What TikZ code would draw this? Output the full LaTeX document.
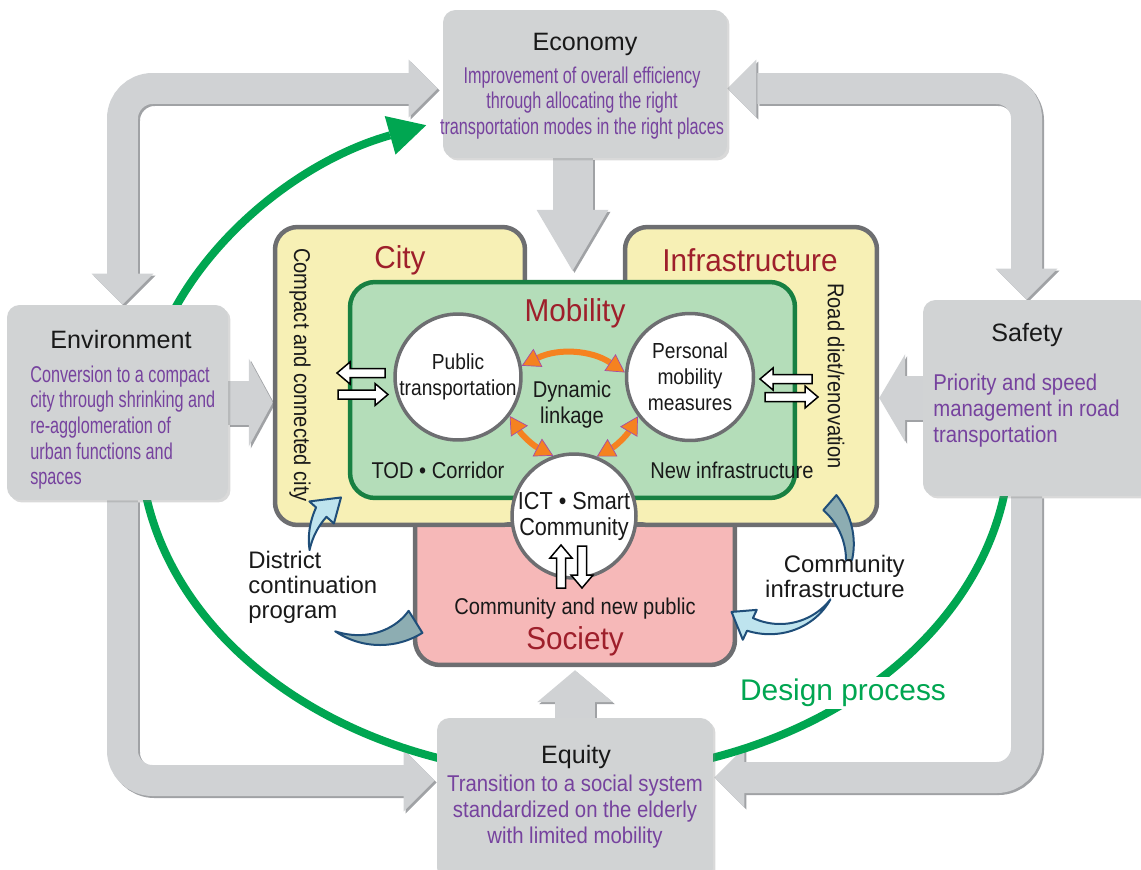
\documentclass[tikz,border=0pt]{standalone}
\usepackage{fontspec}
\setmainfont{Liberation Sans}
\newfontfamily\fcnd{Liberation Sans}[FakeStretch=0.71]
\newfontfamily\fmid{Liberation Sans}[FakeStretch=0.89]
\newfontfamily\fblk{Liberation Sans}[FakeStretch=0.88]
\newfontfamily\fred{Liberation Sans}[FakeStretch=0.94]
\usetikzlibrary{shapes,arrows.meta,shadows}
\pgfdeclarelayer{bg}
\pgfsetlayers{bg,main}

\definecolor{boxgray}{RGB}{209,211,212}
\definecolor{arrgray}{RGB}{208,210,212}
\definecolor{shdgray}{RGB}{160,162,165}
\definecolor{txtpurple}{RGB}{118,66,158}
\definecolor{ttlred}{RGB}{158,31,43}
\definecolor{cityyellow}{RGB}{247,240,181}
\definecolor{mobgreen}{RGB}{180,221,185}
\definecolor{mobline}{RGB}{24,128,66}
\definecolor{socpink}{RGB}{246,184,184}
\definecolor{edgegray}{RGB}{109,110,113}
\definecolor{dpgreen}{RGB}{0,166,81}
\definecolor{linkorange}{RGB}{245,130,32}
\definecolor{swtail}{RGB}{141,173,178}
\definecolor{swhead}{RGB}{190,228,238}
\definecolor{swline}{RGB}{31,78,121}

% gray arrow drawn twice: shadow, then body
\newcommand{\grayarrow}[1]{%
  \begin{scope}[transform canvas={shift={(0.04cm,-0.04cm)}}, color=shdgray]#1\end{scope}%
  \begin{scope}[color=arrgray]#1\end{scope}}
% small white block arrow: tip x, tip y, angle, length
\newcommand{\wbar}[4]{\filldraw [wbar, shift={(#1,#2)}, rotate=#3] (0,0) -- (-13,-11) -- (-13,-4.5) -- (-#4,-4.5) -- (-#4,4.5) -- (-13,4.5) -- (-13,11) -- cycle;}

\begin{document}
\begin{tikzpicture}[x=0.02cm, y=-0.02cm]
        \tikzstyle{graybox} = [rectangle, rounded corners=0.25cm, fill=boxgray, inner sep=0pt, drop shadow={shadow xshift=0.05cm, shadow yshift=-0.05cm, opacity=0.3}]
        \tikzstyle{yellowbox} = [rectangle, rounded corners=0.45cm, fill=cityyellow, draw=edgegray, line width=0.09cm, inner sep=0pt]
        \tikzstyle{pinkbox} = [rectangle, rounded corners=0.5cm, fill=socpink, draw=edgegray, line width=0.09cm, inner sep=0pt]
        \tikzstyle{greenbox} = [rectangle, rounded corners=0.5cm, fill=mobgreen, draw=mobline, line width=0.09cm, inner sep=0pt]
        \tikzstyle{circ} = [circle, fill=white, draw=edgegray, line width=0.07cm, inner sep=0pt, align=center, font=\fblk\fontsize{12.4}{14.8}\selectfont, text=black!90]
        \tikzstyle{ttl} = [font=\fontsize{14.3}{16}\selectfont, text=black!90, inner sep=0pt]
        \tikzstyle{pcnd} = [font=\fcnd\fontsize{13}{14.6}\selectfont, text=txtpurple, inner sep=0pt]
        \tikzstyle{pmid} = [font=\fmid\fontsize{13}{14.8}\selectfont, text=txtpurple, inner sep=0pt]
        \tikzstyle{redttl} = [font=\fred\fontsize{18}{20}\selectfont, text=ttlred, inner sep=0pt]
        \tikzstyle{blk} = [font=\fblk\fontsize{13}{14.8}\selectfont, text=black!90, inner sep=0pt]
        \tikzstyle{side} = [font=\fontsize{13.6}{14.3}\selectfont, text=black!90, inner sep=0pt]
        \tikzstyle{bshaft} = [line width=0.62cm, rounded corners=0.6cm]
        \tikzstyle{sshaft} = [line width=0.8cm]
        \tikzstyle{dproc} = [draw=dpgreen, line width=0.16cm]
        \tikzstyle{link} = [draw=linkorange, line width=0.12cm, {Triangle[length=0.36cm,width=0.4cm,fill=linkorange,color=violet!70,line width=0.4pt]}-{Triangle[length=0.36cm,width=0.4cm,fill=linkorange,color=violet!70,line width=0.4pt]}]
        \tikzstyle{wbar} = [fill=white, draw=black, line width=0.03cm]
        \tikzstyle{swt} = [fill=swtail, draw=swline, line width=0.04cm, line join=round]
        \tikzstyle{swh} = [fill=swhead, draw=swline, line width=0.04cm, line join=round]

        \useasboundingbox (0,0) rectangle (1141,869);

        % outer boxes
        \node [graybox, minimum width=5.68cm, minimum height=2.96cm] (eco) at (585,84) {};
        \node [graybox, minimum width=4.42cm, minimum height=3.9cm] (env) at (117.5,402.5) {};
        \node [graybox, minimum width=4.56cm, minimum height=3.92cm] (saf) at (1037,398) {};
        \node [graybox, minimum width=5.52cm, minimum height=3.24cm] (equ) at (575,799) {};

        \node [ttl] (ecot) at (585,44) {Economy};
        \node [pcnd, align=center] (ecod) at (582,103) {Improvement of overall efficiency\\through allocating the right\\transportation modes in the right places};
        \node [ttl] (envt) at (121,340) {Environment};
        \node [pcnd, align=left, anchor=west] (envd) at (30,427.5) {Conversion to a compact\\city through shrinking and\\re-agglomeration of\\urban functions and\\spaces};
        \node [ttl] (saft) at (1027,335) {Safety};
        \node [pmid, align=left, anchor=west] (safd) at (933,411) {Priority and speed\\management in road\\transportation};
        \node [ttl] (equt) at (576,757) {Equity};
        \node [pmid, align=center] (equd) at (575,812) {Transition to a social system\\standardized on the elderly\\with limited mobility};

        % centre
        \node [pinkbox, minimum width=6.4cm, minimum height=3.9cm] (soc) at (575,567.5) {};
        \node [yellowbox, minimum width=5cm, minimum height=5.96cm] (city) at (400,376) {};
        \node [yellowbox, minimum width=5.04cm, minimum height=5.96cm] (infra) at (751,376) {};
        \fill [cityyellow] (505,470) rectangle (645,522);
        \draw [edgegray, line width=0.09cm] (500,525) -- (650,525);
        \node [greenbox, minimum width=8.9cm, minimum height=4.32cm] (mob) at (572.5,390) {};

        \node [redttl] (cityt) at (400,260) {City};
        \node [redttl] (infrat) at (750,260) {Infrastructure};
        \node [redttl] (mobt) at (575,313) {Mobility};
        \node [redttl] (soct) at (575,641) {Society};
        \node [blk, rotate=-90] (cityd) at (300,375) {Compact and connected city};
        \node [blk, rotate=-90] (infrad) at (836,376) {Road diet/renovation};
        \node [blk] (tod) at (438,470) {TOD • Corridor};
        \node [blk] (newinf) at (732,470) {New infrastructure};
        \node [blk] (socd) at (575,609) {Community and new public};

        % curved blue arrows
        \filldraw [swt] plot[domain=58:124, samples=30] ({380+80*cos(\x)},{565+80*sin(\x)}) -- plot[domain=124:58, samples=30] ({380+(80-26*(124-\x)/66)*cos(\x)},{565+(80-26*(124-\x)/66)*sin(\x)}) -- cycle;
        \filldraw [swh] plot[domain=192:222, samples=20] ({380+72*cos(\x)},{565+72*sin(\x)}) -- ({380+62*cos(222)},{565+62*sin(222)}) -- ({380+78*cos(240)},{565+78*sin(240)}) -- ({380+95*cos(222)},{565+95*sin(222)}) -- plot[domain=222:192, samples=20] ({380+(72+14*(\x-192)/30)*cos(\x)},{565+(72+14*(\x-192)/30)*sin(\x)}) -- cycle;
        \filldraw [swt] plot[domain=-49:0, samples=25] ({780+66*cos(\x)},{560+66*sin(\x)}) -- plot[domain=0:-49, samples=25] ({780+(86-14*(\x+49)/49)*cos(\x)},{560+(86-14*(\x+49)/49)*sin(\x)}) -- cycle;
        \filldraw [swh] plot[domain=38:115, samples=30] ({780+64*cos(\x)},{560+64*sin(\x)}) -- ({780+55*cos(115)},{560+55*sin(115)}) -- ({780+71*cos(133)},{560+71*sin(133)}) -- ({780+88*cos(115)},{560+88*sin(115)}) -- plot[domain=115:38, samples=30] ({780+(64+14*(\x-38)/77)*cos(\x)},{560+(64+14*(\x-38)/77)*sin(\x)}) -- cycle;
        \node [side, align=left, anchor=west] (district) at (248,587) {District\\continuation\\program};
        \node [side, align=right, anchor=east] (comminf) at (905,576.5) {Community\\infrastructure};

        % mobility circles
        \node [circ, minimum size=2.52cm] (pub) at (458,377) {Public\\transportation};
        \node [circ, minimum size=2.54cm] (pers) at (690,377) {Personal\\mobility\\measures};
        \node [circ, minimum size=2.48cm, font=\fblk\fontsize{14}{14.8}\selectfont] (ict) at (574,516) {ICT • Smart\\Community};
        \node [blk, align=center] (dyn) at (572,405) {Dynamic\\linkage};

        \draw [link] (pub.10) to[bend left=30] (pers.176);
        \draw [link] (pub.-37) to[bend right=15] (ict.109);
        \draw [link] (pers.-143) to[bend left=15] (ict.69);

        \wbar{337}{373}{180}{48}
        \wbar{388}{394.5}{0}{50}
        \wbar{760}{379}{180}{52}
        \wbar{818}{397}{0}{53}
        \wbar{561}{545}{90}{43}
        \wbar{582}{588}{-90}{42}

        \node [font=\fontsize{17}{19}\selectfont, text=dpgreen, fill=white, inner sep=1pt] (dplabel) at (843,693) {Design process};

        \begin{pgfonlayer}{bg}
        \grayarrow{\draw [bshaft] ([xshift=0.1cm,yshift=0.6cm]env.north) |- ([xshift=-0.6cm,yshift=-0.09cm]eco.west);
          \fill ([xshift=0.1cm]env.north) -- ++(-31,-31) -- ++(62,0) -- cycle;
          \fill ([xshift=-0.1cm,yshift=-0.09cm]eco.west) -- ++(-29,-29) -- ++(0,58) -- cycle;}
        \grayarrow{\draw [bshaft] ([xshift=0.6cm,yshift=-0.09cm]eco.east) -| ([xshift=-0.21cm,yshift=0.6cm]saf.north);
          \fill ([yshift=-0.09cm]eco.east) -- ++(29,-29) -- ++(0,58) -- cycle;
          \fill ([xshift=-0.21cm]saf.north) -- ++(-31,-31) -- ++(62,0) -- cycle;}
        \grayarrow{\draw [bshaft] ([xshift=0.1cm]env.south) |- ([xshift=-0.56cm,yshift=0.37cm]equ.west);
          \fill ([xshift=-0.04cm,yshift=0.37cm]equ.west) -- ++(-31,-31) -- ++(0,62) -- cycle;}
        \grayarrow{\draw [bshaft] ([xshift=-0.21cm]saf.south) |- ([xshift=0.56cm,yshift=0.43cm]equ.east);
          \fill ([xshift=0.02cm,yshift=0.43cm]equ.east) -- ++(30,-30) -- ++(0,60) -- cycle;}
        \grayarrow{\draw [sshaft] (eco.south -| mob.north) -- ([yshift=1.2cm]mob.north);
          \fill ([yshift=0.18cm]mob.north) -- ++(-36,-61) -- ++(72,0) -- cycle;}
        \grayarrow{\draw [sshaft, line width=0.88cm] (env.east) -- ++(26,0);
          \fill (env.east -| city.west) -- ++(-24,-44) -- ++(0,88) -- cycle;}
        \grayarrow{\draw [sshaft, line width=0.88cm] (saf.west) -- ++(-22,0);
          \fill (saf.west -| infra.east) -- ++(26,-44) -- ++(0,88) -- cycle;}
        \grayarrow{\draw [sshaft] (equ.north) -- ++(0,-22);
          \fill ([yshift=-0.06cm]soc.south) -- ++(-38,32) -- ++(76,0) -- cycle;}

        % design process cycle
        \coordinate (dp) at (575,440);
        \draw [dproc, -{Triangle[length=0.75cm,width=0.8cm,line width=0pt]}] (dp) ++(-160:435 and 335) arc[start angle=-160, end angle=-110, x radius=435, y radius=335];
        \draw [dproc] (dp) ++(172:435 and 335) arc[start angle=172, end angle=107, x radius=435, y radius=335];
        \draw [dproc] (dp) ++(73:435 and 335) arc[start angle=73, end angle=8, x radius=435, y radius=335];
        \end{pgfonlayer}

    \end{tikzpicture}
\end{document}
